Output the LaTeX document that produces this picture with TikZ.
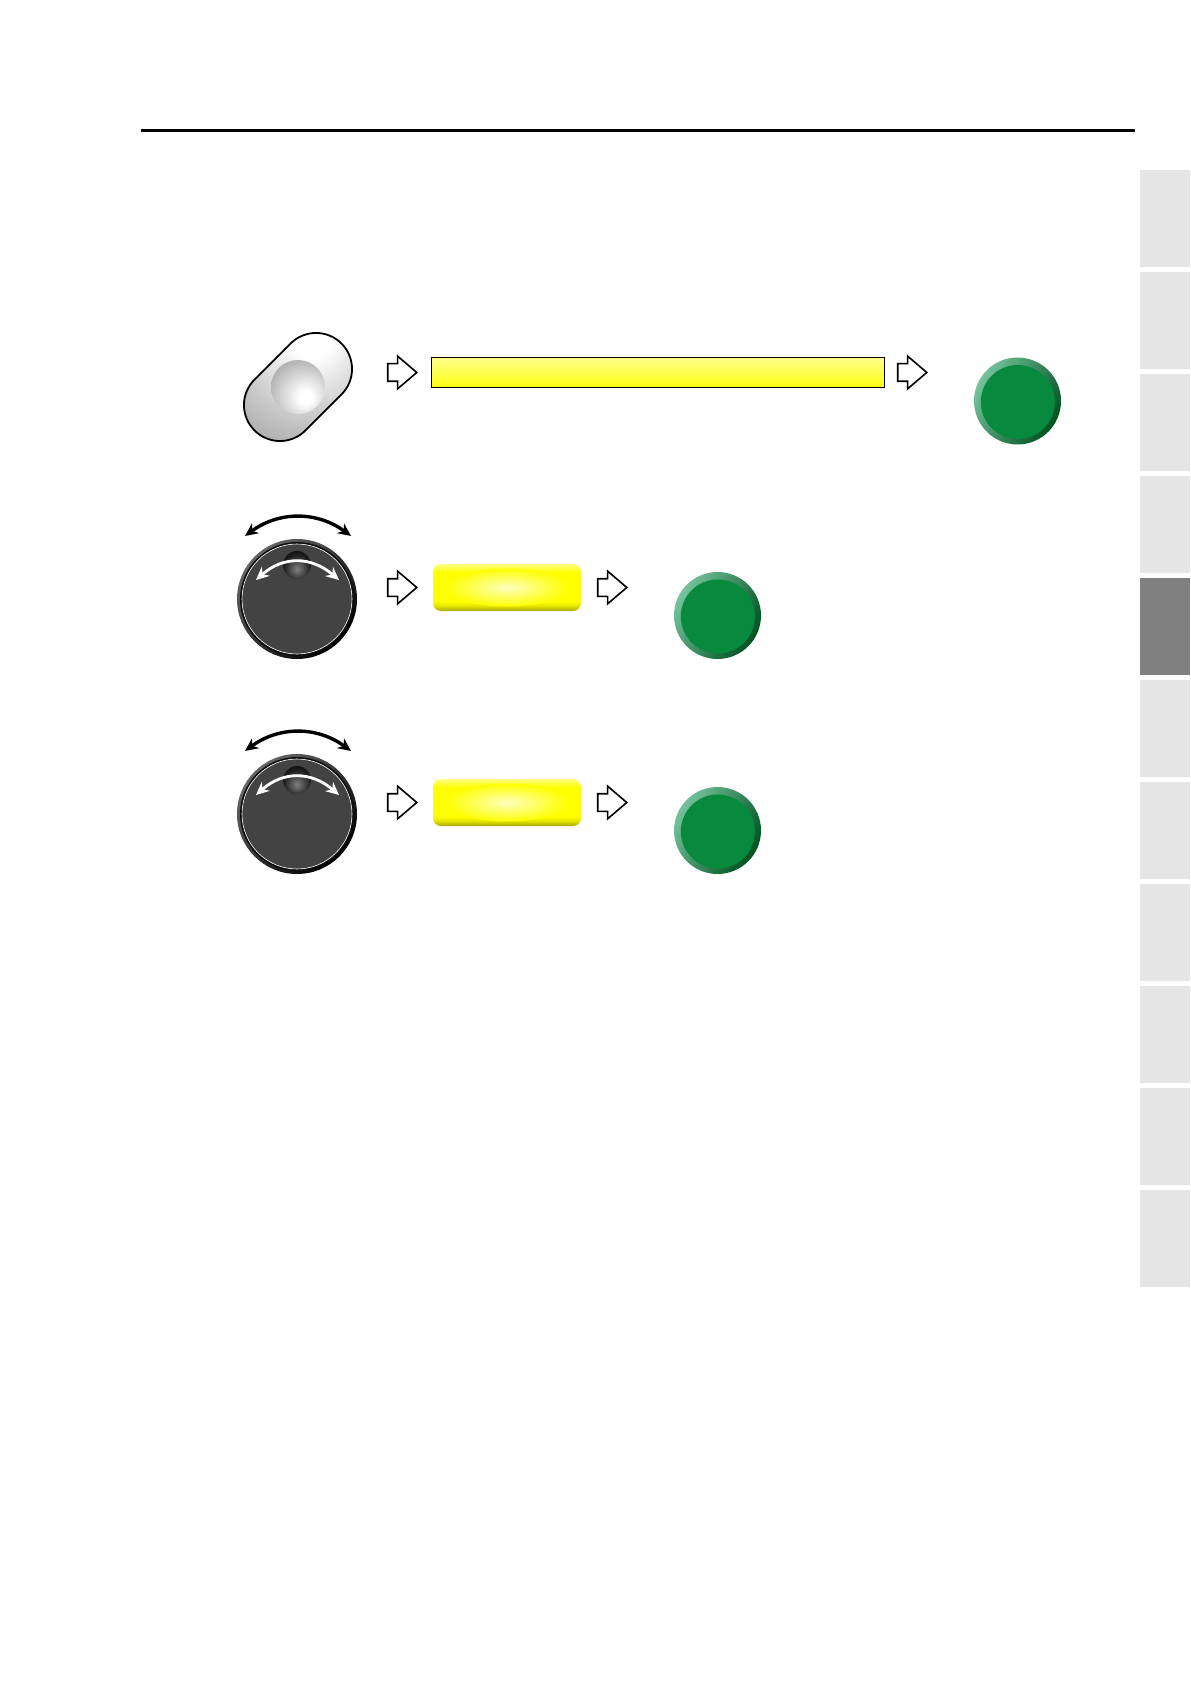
\documentclass[tikz,border=0pt]{standalone}
\usepackage{tikz}
\usetikzlibrary{arrows.meta,shapes.arrows}
\definecolor{panelInk}{HTML}{000000}
\definecolor{panelTab}{HTML}{E5E5E5}
\definecolor{panelTabOn}{HTML}{808080}
\definecolor{panelLamp}{HTML}{078A3E}
\definecolor{panelLampHi}{HTML}{74C39C}
\definecolor{panelLampLo}{HTML}{00521F}
\definecolor{panelKnob}{HTML}{434343}
\pgfdeclareverticalshading{panelBarFill}{100bp}{color(0bp)=(black!45!yellow); color(25bp)=(black!45!yellow);
  color(27bp)=(yellow!92!white); color(75bp)=(yellow!45!white); color(100bp)=(yellow!45!white)}
\pgfdeclareverticalshading{panelKeyFill}{100bp}{color(0bp)=(black!35!yellow); color(25bp)=(black!35!yellow);
  color(30bp)=(black!12!yellow); color(35bp)=(yellow); color(66bp)=(yellow); color(75bp)=(yellow!50!white); color(100bp)=(yellow!50!white)}
\pgfdeclareradialshading{panelRocker}{\pgfpoint{5.4bp}{18.8bp}}{color(0bp)=(white); color(7bp)=(white);
  color(22bp)=(black!18); color(45bp)=(black!42); color(100bp)=(black!42)}
\pgfdeclareradialshading{panelDimple}{\pgfpoint{7.6bp}{-10bp}}{color(0bp)=(white); color(6bp)=(white);
  color(40bp)=(black!38); color(100bp)=(black!38)}
\pgfdeclareradialshading{panelKnobDimple}{\pgfpoint{0bp}{-8bp}}{color(0bp)=(black!50); color(24bp)=(black!88);
  color(34bp)=(black!95); color(100bp)=(black!95)}
\tikzset{
  panel tab/.style={fill=panelTab, minimum width=25pt, minimum height=48.5pt, inner sep=0pt, anchor=north west},
  panel tab on/.style={panel tab, fill=panelTabOn},
  panel rule/.style={draw=panelInk, line width=1.25pt},
  panel arrow/.style={single arrow, draw=panelInk, fill=white, line width=0.8pt, inner xsep=0pt, inner ysep=4pt, anchor=tip,
    minimum height=14.5pt, minimum width=15.5pt, single arrow head extend=3.75pt,
    single arrow head indent=0pt, single arrow tip angle=81},
  panel bar/.style={draw=panelInk, line width=0.5pt, shade, shading=panelBarFill, minimum width=226.5pt,
    minimum height=15pt, inner sep=0pt},
  panel key/.style={shade, shading=panelKeyFill, rounded corners=4pt, minimum width=74pt,
    minimum height=23.5pt, inner sep=0pt},
  panel sweep/.style={{Stealth[length=6.5pt,width=6pt]}-{Stealth[length=6.5pt,width=6pt]}, line width=1.4pt},
  panel lamp/.pic={
    \shade[left color=panelLampHi, right color=panelLampLo, shading angle=60] (0,0) circle (43.5);
    \fill[panelLamp] (0.3,1) circle (37);
  },
  panel knob/.pic={
    \shade[left color=black!60, right color=black, shading angle=45] (0,0) circle (60);
    \fill[black!95] (0,0) circle (57);
    \draw[white, line width=0.3pt, fill=panelKnob] (0,0) circle (55);
    \shade[shading=panelKnobDimple] (0,-34) circle (14);
    \draw[panel sweep, white] (-41,-19) .. controls (-14,-43) and (14,-43) .. (42,-19);
    \draw[panel sweep, panelInk, line width=1.7pt] (-52,-63) .. controls (-18,-88) and (20,-88) .. (54,-63);
  }
}

\begin{document}
\begin{tikzpicture}[x=0.5pt,y=-0.5pt]
  \useasboundingbox (0,0) rectangle (1190,1684);
  % header rule
  \coordinate (ruleL) at (141,130.3);
  \coordinate (ruleR) at (1135,130.3);
  \draw[panel rule] (ruleL) -- (ruleR);

  % side tabs
  \node[panel tab] (tabA) at (1140,170) {};
  \node[panel tab] (tabB) at (1140,272) {};
  \node[panel tab] (tabC) at (1140,374) {};
  \node[panel tab] (tabD) at (1140,476) {};
  \node[panel tab on] (tabE) at (1140,578) {};
  \node[panel tab] (tabF) at (1140,680) {};
  \node[panel tab] (tabG) at (1140,782) {};
  \node[panel tab] (tabH) at (1140,884) {};
  \node[panel tab] (tabI) at (1140,986) {};
  \node[panel tab] (tabJ) at (1140,1088) {};
  \node[panel tab] (tabK) at (1140,1190) {};

  % rocker row
  \path[draw=panelInk, line width=0.9pt, shade, shading=panelRocker, rounded corners=18pt, shift={(298,387)}, rotate=45]
    (-61.5,-36) rectangle (61.5,36);
  \shade[shading=panelDimple] (298,387) circle (27);
  \node[panel arrow] (arrowA) at (418,372.5) {};
  \node[panel bar] (bar) at (658,372.5) {};
  \node[panel arrow] (arrowB) at (928,372.5) {};
  \pic (lampA) at (1017.5,401) {panel lamp};

  % first knob row
  \pic (knobA) at (297,599) {panel knob};
  \node[panel arrow] (arrowC) at (418,587.5) {};
  \node[panel key] (keyA) at (507,587.5) {};
  \shade[inner color=yellow!25!white, outer color=yellow] (keyA.center) ellipse (62 and 19);
  \node[panel arrow] (arrowD) at (628,587.5) {};
  \pic (lampB) at (717.5,615.5) {panel lamp};

  % second knob row
  \pic (knobB) at (297,814) {panel knob};
  \node[panel arrow] (arrowE) at (418,802.5) {};
  \node[panel key] (keyB) at (507,802.5) {};
  \shade[inner color=yellow!25!white, outer color=yellow] (keyB.center) ellipse (62 and 19);
  \node[panel arrow] (arrowF) at (628,802.5) {};
  \pic (lampC) at (717.5,830.5) {panel lamp};
\end{tikzpicture}
\end{document}
